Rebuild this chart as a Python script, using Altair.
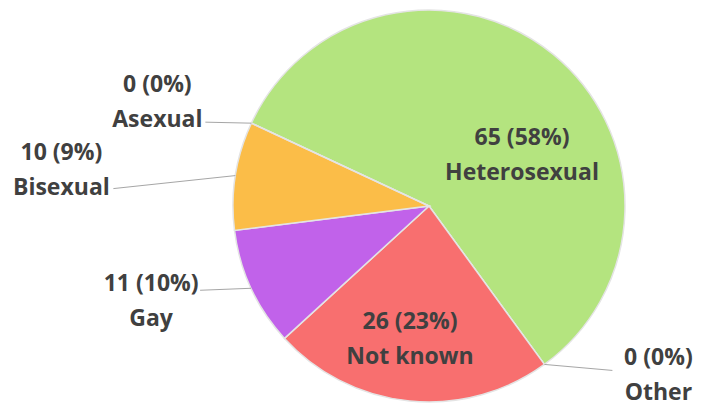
import math
import pandas as pd
import altair as alt

# ---- data ----
categories = ["Heterosexual", "Other", "Not known", "Gay", "Bisexual", "Asexual"]
counts = [65, 0, 26, 11, 10, 0]
label_inside = [True, False, True, False, False, False]

# ---- style / layout ----
colors = ["#b4e47f", "#bdbdbd", "#f86f6f", "#c162ea", "#fbbd48", "#bdbdbd"]
W, H = 687, 400
CX, CY, R = 421, 198, 196
START_DEG = 295.0
FONT = "Open Sans"
FS = 23
LINE_H = 35
TEXT_COLOR = "#404040"
# outside labels: (leader dx, leader dy, text dx, text dy) relative to slice edge / leader end
OUT_LAYOUT = {
    "Other": (68, 6, 46, 5),
    "Gay": (-51, 2, -49, 11),
    "Bisexual": (-122, 13, -52, -18),
    "Asexual": (-46, -1, -48, -20),
}
# inside labels: offset of text block centre from pie centre
IN_LAYOUT = {"Heterosexual": (93, -51), "Not known": (-19, 133)}

total = sum(counts)
rows, lines, texts = [], [], []
cum = 0.0
half = LINE_H / 2  # text y is the first line's centre
for i, (c, v, ins) in enumerate(zip(categories, counts, label_inside)):
    pct = round(100 * v / total)
    mid = math.radians(START_DEG + (cum + v / 2) / total * 360.0)
    cum += v
    rows.append({"category": c, "count": v, "idx": i})
    label = f"{v} ({pct}%)\n{c}"
    if ins:
        ox, oy = IN_LAYOUT[c]
        texts.append({"category": c, "label": label, "x": CX + ox, "y": CY + oy - half})
    else:
        ex = CX + R * math.sin(mid)
        ey = CY - R * math.cos(mid)
        ldx, ldy, tdx, tdy = OUT_LAYOUT[c]
        ax, ay = ex + ldx, ey + ldy
        lines.append({"category": c, "x": ex, "y": ey, "x2": ax, "y2": ay})
        texts.append({"category": c, "label": label, "x": ax + tdx, "y": ay + tdy - half})

df = pd.DataFrame(rows)
lines_df = pd.DataFrame(lines)
texts_df = pd.DataFrame(texts)

xs = alt.Scale(domain=[0, W], nice=False, zero=False)
ys = alt.Scale(domain=[0, H], nice=False, zero=False, reverse=True)
s = math.radians(START_DEG)

pie = alt.Chart(df).mark_arc(outerRadius=R, stroke="#e4e4e4", strokeWidth=1.5).encode(
    theta=alt.Theta("count:Q", stack=True, scale=alt.Scale(range=[s, s + 2 * math.pi])),
    order=alt.Order("idx:Q"),
    color=alt.Color("category:N", scale=alt.Scale(domain=categories, range=colors), legend=None),
    x=alt.value(CX),
    y=alt.value(CY),
)

leaders = alt.Chart(lines_df).mark_rule(color="#a6a6a6", strokeWidth=1).encode(
    x=alt.X("x:Q", scale=xs, axis=None),
    y=alt.Y("y:Q", scale=ys, axis=None),
    x2="x2:Q",
    y2="y2:Q",
)

labels = alt.Chart(texts_df).mark_text(
    font=FONT, fontSize=FS, fontWeight="bold", color=TEXT_COLOR,
    lineBreak="\n", lineHeight=LINE_H, align="center", baseline="middle",
).encode(
    x=alt.X("x:Q", scale=xs, axis=None),
    y=alt.Y("y:Q", scale=ys, axis=None),
    text="label:N",
)

chart = alt.layer(pie, leaders, labels).properties(
    width=W, height=H, padding=0, autosize="none"
).configure_view(stroke=None)

chart.save("out.html", embed_options={"renderer": "svg", "actions": False})
